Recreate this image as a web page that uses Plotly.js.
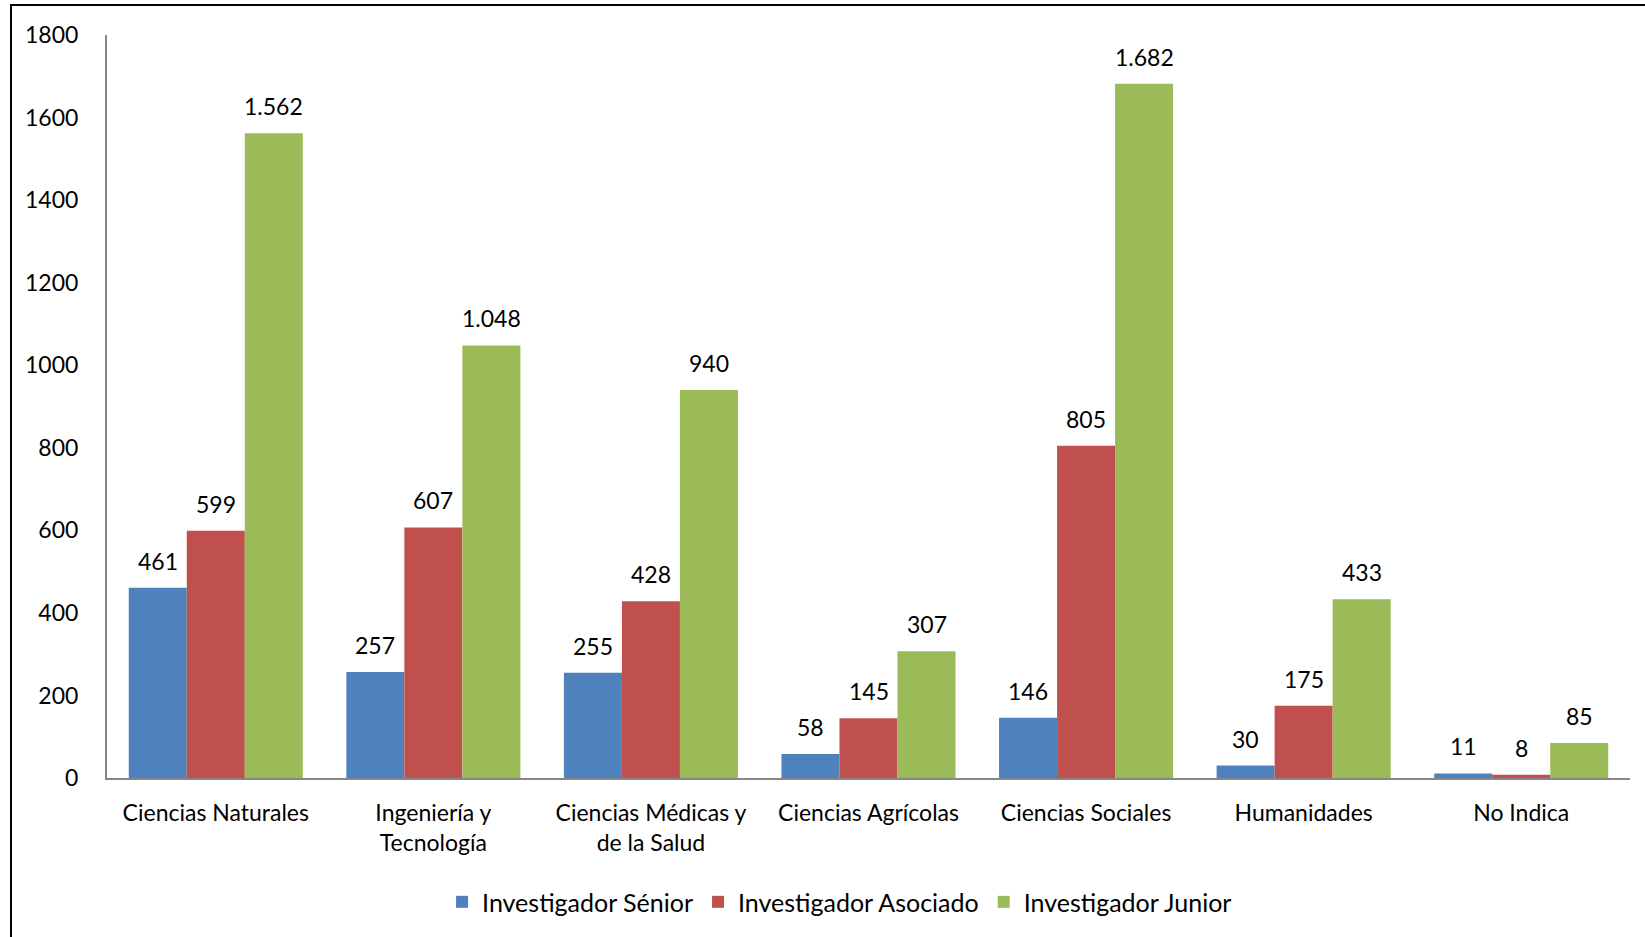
<!DOCTYPE html>
<html><head><meta charset="utf-8">
<script src="https://cdn.plot.ly/plotly-3.0.1.min.js"></script>
<style>html,body{margin:0;padding:0;background:#fff}#chart{width:1645px;height:937px}</style>
</head><body><div id="chart"></div>
<script>
const categories = ["Ciencias Naturales", "Ingeniería y<br>Tecnología", "Ciencias Médicas y<br>de la Salud", "Ciencias Agrícolas", "Ciencias Sociales", "Humanidades", "No Indica"];
const seriesNames = ["Investigador Sénior", "Investigador Asociado", "Investigador Junior"];
const senior = [461, 257, 255, 58, 146, 30, 11];
const asociado = [599, 607, 428, 145, 805, 175, 8];
const junior = [1562, 1048, 940, 307, 1682, 433, 85];
const yTicks = [0, 200, 400, 600, 800, 1000, 1200, 1400, 1600, 1800];

const colors = ["#4F81BD", "#C0504D", "#9BBB59"];
const font = "Lato, 'Open Sans', sans-serif";
const fs = 23;
const allSeries = [senior, asociado, junior];

const traces = allSeries.map((vals, i) => ({
  type: "bar",
  name: seriesNames[i],
  x: categories,
  y: vals,
  marker: {color: colors[i], line: {width: 0}},
  hoverinfo: "y+name"
}));

const shifts = [-58, 0, 58];
const annotations = [];
allSeries.forEach((vals, i) => {
  vals.forEach((v, j) => {
    annotations.push({
      x: categories[j], y: v, xref: "x", yref: "y",
      text: v.toLocaleString("de-DE"),
      showarrow: false, xshift: shifts[i], yshift: 11,
      yanchor: "bottom", xanchor: "center",
      font: {family: font, size: fs, color: "#000"}
    });
  });
});

const layout = {
  width: 1645, height: 937,
  margin: {l: 107, r: 15, t: 35, b: 159},
  paper_bgcolor: "#fff", plot_bgcolor: "#fff",
  barmode: "group", bargap: 0.2, bargroupgap: 0,
  font: {family: font, size: fs, color: "#000"},
  xaxis: {
    showline: true, linecolor: "#868686", linewidth: 2,
    ticks: "", showgrid: false, zeroline: false,
    tickfont: {family: font, size: fs, color: "#000"},
    ticklabelstandoff: 13,
    fixedrange: true
  },
  yaxis: {
    range: [0, 1800], tickvals: yTicks, ticktext: yTicks.map(String),
    showline: true, linecolor: "#868686", linewidth: 2,
    showgrid: false, zeroline: false, ticks: "",
    ticklabelstandoff: 22,
    tickfont: {family: font, size: fs, color: "#000"},
    fixedrange: true
  },
  legend: {
    orientation: "h", x: 0.481, xanchor: "center", y: -0.167, yanchor: "middle",
    font: {family: font, size: 25, color: "#000"},
    itemclick: false, itemdoubleclick: false
  },
  annotations: annotations,
  shapes: [{
    type: "rect", xref: "paper", yref: "paper",
    x0: -96 / 1523, x1: 1550 / 1523, y0: -300 / 743, y1: 773 / 743,
    line: {color: "#000", width: 2}, fillcolor: "rgba(0,0,0,0)", layer: "above"
  }]
};

Plotly.newPlot("chart", traces, layout, {displayModeBar: false, staticPlot: true});
</script></body></html>
